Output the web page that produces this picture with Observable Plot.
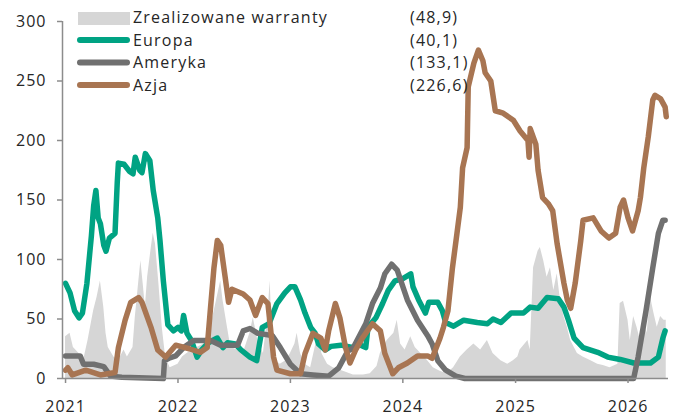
<!DOCTYPE html>
<html>
<head>
<meta charset="utf-8">
<script src="https://cdn.jsdelivr.net/npm/d3@7"></script>
<script src="https://cdn.jsdelivr.net/npm/@observablehq/plot@0.6"></script>
<style>
  html, body { margin: 0; padding: 0; background: #fff; }
  #wrap { position: relative; width: 676px; height: 419px; font-family: "Open Sans", sans-serif; }
  #wrap > svg.plot { position: absolute; left: 0; top: 0; }
  #wrap > svg.plot text { letter-spacing: 1px; }
  #legend { position: absolute; left: 0; top: 0; pointer-events: none; }
  #legend text { letter-spacing: 1.2px; }
</style>
</head>
<body>
<div id="wrap"></div>
<script>
// ---- legend ----
const seriesNames  = ["Zrealizowane warranty", "Europa", "Ameryka", "Azja"];
const seriesLabels = ["(48,9)", "(40,1)", "(133,1)", "(226,6)"];
const seriesColors = ["#d6d6d6", "#00a383", "#707070", "#a87552"];

// ---- axis ticks ----
const yTicks = [0, 50, 100, 150, 200, 250, 300];
const xTickYears = [2021, 2022, 2023, 2024, 2025, 2026];
const xDomainYears = [2020.973, 2026.36];

// ---- data (time as decimal year, value) ----
const warrantyT = [2021.00,2021.04,2021.07,2021.12,2021.16,2021.20,2021.25,2021.28,2021.31,2021.34,2021.36,2021.38,2021.43,2021.47,2021.52,2021.55,2021.60,2021.62,2021.65,2021.67,2021.69,2021.71,2021.73,2021.76,2021.78,2021.80,2021.83,2021.86,2021.89,2021.93,2022.00,2022.04,2022.08,2022.13,2022.17,2022.23,2022.29,2022.33,2022.38,2022.40,2022.44,2022.47,2022.53,2022.58,2022.64,2022.67,2022.71,2022.76,2022.80,2022.82,2022.84,2022.87,2022.91,2022.96,2023.00,2023.04,2023.06,2023.09,2023.13,2023.18,2023.22,2023.25,2023.28,2023.33,2023.38,2023.47,2023.56,2023.65,2023.71,2023.77,2023.80,2023.86,2023.92,2023.95,2023.98,2024.02,2024.07,2024.11,2024.16,2024.22,2024.27,2024.33,2024.39,2024.45,2024.51,2024.57,2024.63,2024.69,2024.75,2024.80,2024.87,2024.93,2024.98,2025.02,2025.04,2025.11,2025.13,2025.16,2025.20,2025.22,2025.25,2025.28,2025.31,2025.34,2025.37,2025.40,2025.43,2025.46,2025.49,2025.55,2025.60,2025.67,2025.73,2025.78,2025.84,2025.91,2025.93,2025.96,2026.00,2026.02,2026.05,2026.08,2026.11,2026.14,2026.17,2026.20,2026.23,2026.26,2026.29,2026.32,2026.34];
const warrantyV = [35,38,26,21,15,32,57,68,82,60,38,26,18,15,24,18,26,51,80,99,80,60,85,108,122,113,80,43,18,9,12,18,21,24,26,29,43,60,82,66,43,26,24,21,38,51,32,21,54,82,32,15,12,15,21,29,38,21,12,9,26,38,21,12,9,6,3,3,4,10,21,32,38,49,29,24,35,26,21,15,9,6,4,9,18,24,29,24,32,21,15,12,15,18,24,32,24,93,107,110,99,85,93,74,88,65,52,43,32,21,18,15,12,11,9,12,63,65,49,32,52,43,32,49,38,69,55,43,52,49,49];

const europaT = [2021.00,2021.04,2021.08,2021.12,2021.15,2021.19,2021.23,2021.25,2021.27,2021.29,2021.31,2021.34,2021.36,2021.39,2021.44,2021.46,2021.47,2021.52,2021.57,2021.60,2021.62,2021.66,2021.68,2021.71,2021.75,2021.78,2021.82,2021.84,2021.87,2021.91,2021.96,2022.00,2022.03,2022.05,2022.08,2022.12,2022.17,2022.21,2022.27,2022.35,2022.40,2022.44,2022.51,2022.56,2022.64,2022.70,2022.75,2022.81,2022.88,2022.95,2023.00,2023.04,2023.09,2023.13,2023.18,2023.22,2023.25,2023.31,2023.36,2023.45,2023.55,2023.60,2023.67,2023.69,2023.76,2023.82,2023.87,2023.93,2024.00,2024.07,2024.09,2024.14,2024.20,2024.23,2024.31,2024.35,2024.38,2024.45,2024.54,2024.66,2024.75,2024.80,2024.87,2024.96,2025.07,2025.13,2025.20,2025.28,2025.38,2025.43,2025.47,2025.52,2025.60,2025.73,2025.82,2025.93,2026.05,2026.20,2026.27,2026.31,2026.33];
const europaV = [80,72,57,51,55,80,120,145,158,135,130,112,107,118,122,165,181,180,174,172,186,175,173,189,183,158,135,116,82,45,40,43,40,53,38,32,18,24,30,34,26,30,29,24,18,15,43,46,63,72,77,77,66,55,43,38,29,24,27,28,26,29,26,43,51,63,74,82,84,88,77,66,55,64,64,57,47,44,49,47,46,50,47,55,55,60,59,68,67,60,49,34,26,22,18,16,13,13,18,34,40];

const amerykaT = [2021.00,2021.13,2021.16,2021.25,2021.34,2021.40,2021.50,2021.87,2021.88,2021.92,2021.98,2022.05,2022.14,2022.29,2022.38,2022.53,2022.58,2022.64,2022.71,2022.84,2022.91,2023.00,2023.09,2023.20,2023.34,2023.43,2023.51,2023.56,2023.67,2023.73,2023.80,2023.84,2023.90,2023.95,2024.04,2024.13,2024.22,2024.26,2024.31,2024.38,2024.47,2024.55,2026.05,2026.09,2026.16,2026.22,2026.27,2026.31,2026.33];
const amerykaV = [19,19,12,12,10,2,1,0,15,17,19,26,32,32,28,28,40,42,38,36,26,12,4,3,2,9,23,26,46,63,76,88,96,91,66,49,36,29,15,7,2,0,0,18,57,93,122,133,133];

const azjaT = [2021.00,2021.02,2021.06,2021.18,2021.31,2021.44,2021.47,2021.53,2021.58,2021.65,2021.68,2021.76,2021.82,2021.89,2021.98,2022.10,2022.20,2022.26,2022.29,2022.32,2022.35,2022.38,2022.42,2022.45,2022.48,2022.58,2022.64,2022.69,2022.75,2022.80,2022.85,2022.88,2023.00,2023.09,2023.13,2023.20,2023.27,2023.31,2023.34,2023.40,2023.44,2023.49,2023.53,2023.58,2023.64,2023.73,2023.80,2023.84,2023.91,2023.96,2024.04,2024.13,2024.22,2024.26,2024.33,2024.36,2024.40,2024.44,2024.48,2024.51,2024.53,2024.57,2024.58,2024.63,2024.67,2024.71,2024.73,2024.78,2024.82,2024.89,2024.98,2025.04,2025.11,2025.12,2025.13,2025.18,2025.20,2025.24,2025.29,2025.33,2025.37,2025.43,2025.46,2025.49,2025.53,2025.58,2025.60,2025.69,2025.76,2025.83,2025.89,2025.93,2025.96,2026.00,2026.04,2026.09,2026.11,2026.14,2026.18,2026.22,2026.24,2026.29,2026.33,2026.34];
const azjaV = [7,9,3,7,3,5,26,49,64,68,64,43,24,18,28,25,22,26,60,93,116,112,85,64,75,71,66,53,68,63,18,7,4,4,21,38,34,24,40,63,51,26,13,24,34,46,40,21,4,9,13,19,19,17,34,43,57,93,122,144,177,194,245,265,276,267,257,250,225,223,217,208,200,186,210,197,175,152,147,141,113,80,66,59,80,116,133,135,124,118,122,144,150,135,124,141,152,177,203,234,238,235,228,220];

// ---- build tables ----
function toDate(t) {
  const y = Math.floor(t);
  const s = Date.UTC(y, 0, 1), e = Date.UTC(y + 1, 0, 1);
  return new Date(s + (t - y) * (e - s));
}
const table = (T, V) => T.map((t, i) => ({date: toDate(t), value: V[i]}));
const warranty = table(warrantyT, warrantyV);
const europa = table(europaT, europaV);
const ameryka = table(amerykaT, amerykaV);
const azja = table(azjaT, azjaV);
const xDomain = xDomainYears.map(toDate);
const xTicks = xTickYears.map(y => new Date(Date.UTC(y, 0, 1)));

const axisColor = "#8c8c8c";
const textColor = "#262626";
const lineW = 5.5;

const chart = Plot.plot({
  width: 676,
  height: 419,
  marginLeft: 62,
  marginRight: 8,
  marginTop: 21,
  marginBottom: 41,
  style: {fontFamily: "'Open Sans', sans-serif", fontSize: "16px", color: textColor, background: "#fff"},
  x: {type: "utc", domain: xDomain},
  y: {domain: [0, 300]},
  marks: [
    Plot.areaY(warranty, {x: "date", y: "value", fill: seriesColors[0], curve: "linear"}),
    Plot.lineY(europa, {x: "date", y: "value", stroke: seriesColors[1], strokeWidth: lineW, strokeLinejoin: "round", strokeLinecap: "round"}),
    Plot.lineY(ameryka, {x: "date", y: "value", stroke: seriesColors[2], strokeWidth: lineW, strokeLinejoin: "round", strokeLinecap: "round"}),
    Plot.lineY(azja, {x: "date", y: "value", stroke: seriesColors[3], strokeWidth: lineW, strokeLinejoin: "round", strokeLinecap: "round"}),
    Plot.ruleY([0], {stroke: axisColor, strokeWidth: 1.5}),
    Plot.ruleX([xDomain[0]], {stroke: axisColor, strokeWidth: 1.5}),
    Plot.axisY({ticks: yTicks, tickSize: 5, tickPadding: 11, stroke: axisColor, fill: textColor, label: null, fontSize: 16, strokeWidth: 1.5}),
    Plot.axisX({ticks: xTicks, tickFormat: d3.utcFormat("%Y"), tickSize: 5, tickPadding: 17, stroke: axisColor, fill: textColor, label: null, fontSize: 16, strokeWidth: 1.5})
  ]
});
chart.classList.add("plot");
document.getElementById("wrap").appendChild(chart);

// ---- legend overlay ----
const leg = d3.select("#wrap").append("svg")
  .attr("id", "legend").attr("width", 676).attr("height", 110);
const rowY = [23, 45.5, 68, 90.5];
seriesNames.forEach((name, i) => {
  if (i === 0) {
    leg.append("rect").attr("x", 78).attr("y", 12).attr("width", 52).attr("height", 13).attr("fill", seriesColors[0]);
  } else {
    leg.append("line").attr("x1", 80).attr("x2", 127).attr("y1", rowY[i] - 5.5).attr("y2", rowY[i] - 5.5)
      .attr("stroke", seriesColors[i]).attr("stroke-width", 6).attr("stroke-linecap", "round");
  }
  leg.append("text").attr("x", 133).attr("y", rowY[i]).text(name)
    .attr("font-family", "'Open Sans', sans-serif").attr("font-size", 16).attr("fill", textColor);
  leg.append("text").attr("x", 410).attr("y", rowY[i]).text(seriesLabels[i])
    .attr("font-family", "'Open Sans', sans-serif").attr("font-size", 16).attr("fill", textColor);
});
</script>
</body>
</html>
